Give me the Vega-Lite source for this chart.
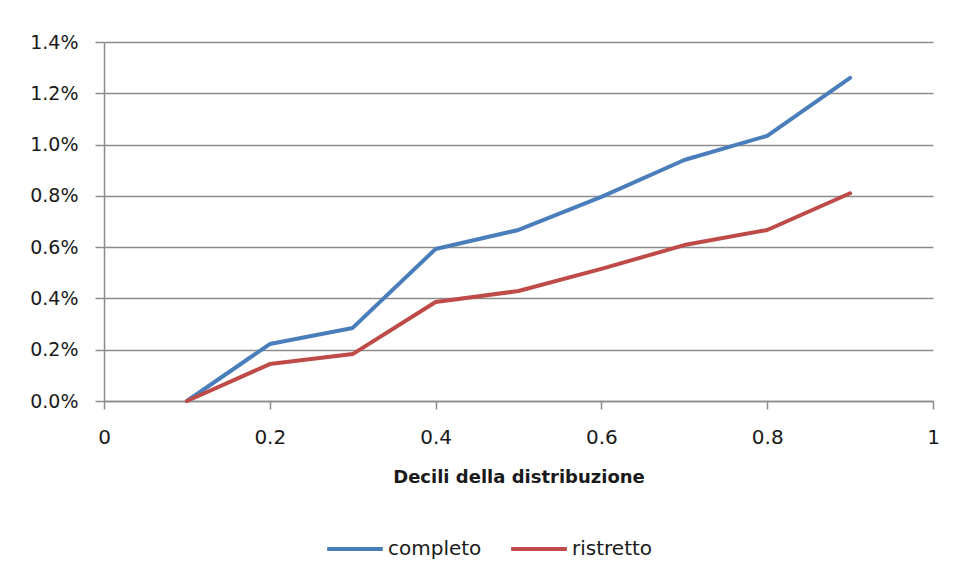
{
  "$schema": "https://vega.github.io/schema/vega-lite/v6.json",
  "width": 829,
  "height": 359,
  "autosize": {"type": "none"},
  "padding": {"left": 104, "top": 42, "right": 24, "bottom": 180},
  "background": "white",
  "config": {
    "font": "DejaVu Sans",
    "view": {"stroke": null},
    "axis": {"labelFont": "DejaVu Sans", "titleFont": "DejaVu Sans", "labelColor": "#1a1a1a", "titleColor": "#1a1a1a"}
  },
  "data": {
    "values": [
      {"decile": 0.1, "serie": "completo", "v": 0.0},
      {"decile": 0.2, "serie": "completo", "v": 0.00222},
      {"decile": 0.3, "serie": "completo", "v": 0.00285},
      {"decile": 0.4, "serie": "completo", "v": 0.00593},
      {"decile": 0.5, "serie": "completo", "v": 0.00667},
      {"decile": 0.6, "serie": "completo", "v": 0.00796},
      {"decile": 0.7, "serie": "completo", "v": 0.0094},
      {"decile": 0.8, "serie": "completo", "v": 0.01034},
      {"decile": 0.9, "serie": "completo", "v": 0.0126},
      {"decile": 0.1, "serie": "ristretto", "v": 0.0},
      {"decile": 0.2, "serie": "ristretto", "v": 0.00144},
      {"decile": 0.3, "serie": "ristretto", "v": 0.00183},
      {"decile": 0.4, "serie": "ristretto", "v": 0.00386},
      {"decile": 0.5, "serie": "ristretto", "v": 0.00429},
      {"decile": 0.6, "serie": "ristretto", "v": 0.00515},
      {"decile": 0.7, "serie": "ristretto", "v": 0.00608},
      {"decile": 0.8, "serie": "ristretto", "v": 0.00667},
      {"decile": 0.9, "serie": "ristretto", "v": 0.0081}
    ]
  },
  "mark": {"type": "line", "strokeWidth": 4, "strokeCap": "round", "strokeJoin": "round"},
  "encoding": {
    "x": {
      "field": "decile", "type": "quantitative",
      "scale": {"domain": [0, 1], "nice": false, "zero": true},
      "axis": {
        "values": [0, 0.2, 0.4, 0.6, 0.8, 1],
        "format": "~g",
        "grid": false,
        "domainColor": "#8c8c8c",
        "domainWidth": 1.5,
        "tickColor": "#8c8c8c",
        "tickWidth": 1.5,
        "tickSize": 8,
        "labelFontSize": 20,
        "labelPadding": 28,
        "labelBaseline": "middle",
        "labelFlush": false,
        "title": "Decili della distribuzione",
        "titleFontSize": 18,
        "titleFontWeight": "bold",
        "titlePadding": 21
      }
    },
    "y": {
      "field": "v", "type": "quantitative",
      "scale": {"domain": [0, 0.014], "nice": false},
      "axis": {
        "values": [0, 0.002, 0.004, 0.006, 0.008, 0.01, 0.012, 0.014],
        "format": ".1%",
        "grid": true,
        "gridColor": "#8c8c8c",
        "gridWidth": 1.5,
        "domainColor": "#8c8c8c",
        "domainWidth": 1.5,
        "ticks": true,
        "tickSize": 9,
        "tickColor": "#8c8c8c",
        "tickWidth": 1.5,
        "labelFontSize": 19,
        "labelPadding": 17,
        "title": null
      }
    },
    "color": {
      "field": "serie", "type": "nominal",
      "scale": {"domain": ["completo", "ristretto"], "range": ["#4a7ebb", "#be4b48"]},
      "legend": {
        "title": null,
        "orient": "none",
        "direction": "horizontal",
        "legendX": 221,
        "legendY": 477,
        "symbolType": "stroke",
        "symbolStrokeWidth": 4,
        "symbolSize": 3100,
        "labelFontSize": 20,
        "labelFont": "DejaVu Sans",
        "labelColor": "#1a1a1a",
        "columnPadding": 21,
        "symbolOffset": 0,
        "labelOffset": 3
      }
    }
  }
}
